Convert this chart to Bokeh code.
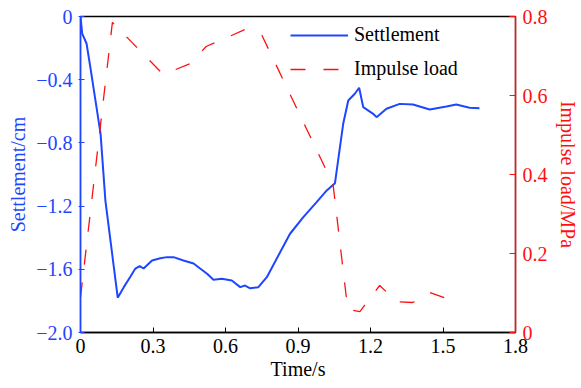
from bokeh.plotting import figure
from bokeh.models import LinearAxis, Range1d, FixedTicker, Legend, LegendItem
from bokeh.embed import file_html
from bokeh.resources import INLINE

# ---- data ----
time_settle = [0.000, 0.007, 0.025, 0.041, 0.062, 0.083, 0.103, 0.154, 0.179, 0.205,
               0.227, 0.245, 0.261, 0.296, 0.330, 0.358, 0.385, 0.426, 0.468, 0.495,
               0.525, 0.550, 0.585, 0.626, 0.661, 0.681, 0.702, 0.736, 0.771, 0.826,
               0.867, 0.922, 0.977, 1.019, 1.053, 1.066, 1.087, 1.108, 1.135, 1.153,
               1.170, 1.211, 1.225, 1.266, 1.321, 1.376, 1.445, 1.514, 1.555, 1.610,
               1.651]
settlement = [0.000, -0.108, -0.171, -0.323, -0.532, -0.741, -1.165, -1.780, -1.713, -1.650,
              -1.595, -1.580, -1.595, -1.544, -1.530, -1.523, -1.523, -1.544, -1.563, -1.595,
              -1.630, -1.666, -1.660, -1.671, -1.713, -1.703, -1.720, -1.713, -1.650, -1.492,
              -1.375, -1.270, -1.175, -1.101, -1.055, -0.911, -0.679, -0.532, -0.489, -0.451,
              -0.574, -0.616, -0.637, -0.584, -0.553, -0.557, -0.589, -0.570, -0.557, -0.578,
              -0.580]

time_load = [0.000, 0.132, 0.343, 0.454, 0.520, 0.681, 0.751, 1.045, 1.106, 1.156,
             1.238, 1.309, 1.375, 1.445, 1.515]
impulse_load = [0.089, 0.785, 0.653, 0.681, 0.724, 0.767, 0.752, 0.375, 0.058, 0.053,
                0.119, 0.078, 0.076, 0.101, 0.086]

x_ticks = [0, 0.3, 0.6, 0.9, 1.2, 1.5, 1.8]
x_tick_labels = ["0", "0.3", "0.6", "0.9", "1.2", "1.5", "1.8"]
left_ticks = [-2.0, -1.6, -1.2, -0.8, -0.4, 0]
left_tick_labels = ["\u22122.0", "\u22121.6", "\u22121.2", "\u22120.8", "\u22120.4", "0"]
right_ticks = [0, 0.2, 0.4, 0.6, 0.8]
right_tick_labels = ["0", "0.2", "0.4", "0.6", "0.8"]

BLUE = "#1e46ff"
RED = "#ff1010"
FONT = "'Liberation Serif', 'Times New Roman', serif"
FS = "20px"

p = figure(width=581, height=388, output_backend="svg", toolbar_location=None,
           x_range=Range1d(0, 1.8), y_range=Range1d(-2.0, 0))
p.min_border_left = 80
p.min_border_right = 65
p.min_border_top = 16
p.min_border_bottom = 56
p.grid.visible = False
p.outline_line_color = "black"
p.outline_line_width = 1.3
p.background_fill_color = "white"
p.border_fill_color = "white"

p.extra_y_ranges = {"load": Range1d(0, 0.8)}

# bottom axis
xa = p.xaxis[0]
xa.ticker = FixedTicker(ticks=x_ticks)
xa.major_label_overrides = {t: l for t, l in zip(x_ticks, x_tick_labels)}
xa.axis_label = "Time/s"
xa.axis_line_color = "black"
xa.axis_line_width = 1.3
xa.major_tick_in = 5
xa.major_tick_out = 0
xa.minor_tick_line_color = None
xa.major_tick_line_color = "black"
xa.major_label_text_font = FONT
xa.major_label_text_font_size = FS
xa.major_label_text_color = "black"
xa.axis_label_text_font = FONT
xa.axis_label_text_font_size = FS
xa.axis_label_text_font_style = "normal"
xa.axis_label_text_color = "black"
xa.major_label_standoff = 6
xa.axis_label_standoff = 2

# left axis
ya = p.yaxis[0]
ya.ticker = FixedTicker(ticks=left_ticks)
ya.major_label_overrides = {t: l for t, l in zip(left_ticks, left_tick_labels)}
ya.axis_label = "Settlement/cm"
ya.axis_line_color = BLUE
ya.axis_line_width = 1.5
ya.major_tick_line_color = BLUE
ya.major_tick_in = 4
ya.major_tick_out = 2
ya.minor_tick_line_color = None
ya.major_label_text_font = FONT
ya.major_label_text_font_size = FS
ya.major_label_text_color = BLUE
ya.axis_label_text_font = FONT
ya.axis_label_text_font_size = FS
ya.axis_label_text_font_style = "normal"
ya.axis_label_text_color = BLUE
ya.major_label_standoff = 6
ya.axis_label_standoff = 4

# right axis
ra = LinearAxis(y_range_name="load", ticker=FixedTicker(ticks=right_ticks))
ra.major_label_overrides = {t: l for t, l in zip(right_ticks, right_tick_labels)}
ra.axis_label = "Impulse load/MPa"
ra.axis_line_color = RED
ra.axis_line_width = 1.5
ra.major_tick_line_color = RED
ra.major_tick_in = 6
ra.major_tick_out = 0
ra.minor_tick_line_color = None
ra.major_label_text_font = FONT
ra.major_label_text_font_size = FS
ra.major_label_text_color = RED
ra.axis_label_text_font = FONT
ra.axis_label_text_font_size = FS
ra.axis_label_text_font_style = "normal"
ra.axis_label_text_color = RED
ra.major_label_standoff = 7
ra.axis_label_standoff = 6
p.add_layout(ra, "right")

r1 = p.line(time_settle, settlement, line_color=BLUE, line_width=2)
r2 = p.line(time_load, impulse_load, line_color=RED, line_width=1.3,
            line_dash="15 18", y_range_name="load")

legend = Legend(items=[LegendItem(label="Settlement", renderers=[r1]),
                       LegendItem(label="Impulse load", renderers=[r2])],
                location=(210, 252))
legend.background_fill_alpha = 0
legend.border_line_color = None
legend.padding = 0
legend.margin = 0
legend.spacing = 11
legend.glyph_width = 58
legend.glyph_height = 20
legend.label_height = 20
legend.label_standoff = 6
legend.label_text_font = FONT
legend.label_text_font_size = FS
legend.label_text_color = "black"
p.add_layout(legend)

open("out.html", "w").write(file_html(p, INLINE))
